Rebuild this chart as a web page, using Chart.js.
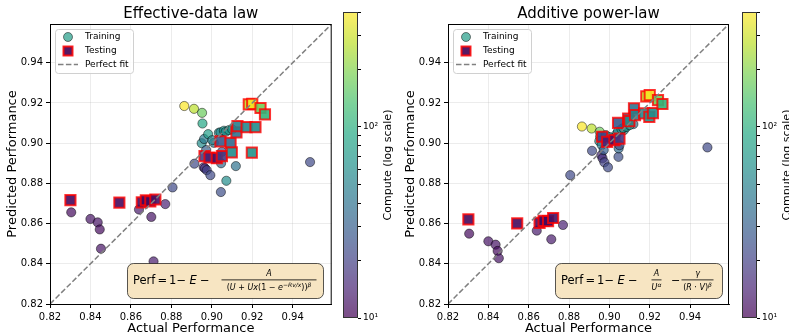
<!DOCTYPE html>
<html>
<head>
<meta charset="utf-8">
<script src="https://cdn.jsdelivr.net/npm/chart.js@4.4.1/dist/chart.umd.min.js"></script>
<style>
html, body { margin:0; padding:0; background:#fff; overflow:hidden; width:789px; height:336px; position:relative; }
canvas { position:absolute; top:0; }
</style>
</head>
<body>
<canvas id="plotA" width="400" height="336" style="left:0px"></canvas>
<canvas id="barA" width="60" height="336" style="left:343px"></canvas>
<canvas id="plotB" width="400" height="336" style="left:398px"></canvas>
<canvas id="barB" width="60" height="336" style="left:742px"></canvas>
<script>
// training runs
const trainActual  = [0.8305,0.8400,0.8436,0.8446,0.8452,0.8640,0.8701,0.8712,0.8770,0.8806,0.9486,
                      0.8864,0.8912,0.8952,0.8954,0.8914,0.8960,0.8966,0.8975,0.8993,0.9045,0.9046,0.9072,0.9119,
                      0.8950,0.8962,0.8982,0.8972,0.9010,0.9035,0.9043,0.9060,0.9069,0.9085,0.9101,0.9050,0.9002];
const trainPredEff = [0.8656,0.8623,0.8606,0.8571,0.8475,0.8670,0.8633,0.8412,0.8697,0.8780,0.8906,
                      0.9185,0.9171,0.9151,0.9098,0.8898,0.8880,0.8875,0.8866,0.8841,0.8757,0.8900,0.8813,0.8886,
                      0.9000,0.9021,0.9045,0.8966,0.9002,0.9052,0.9054,0.9062,0.9057,0.9065,0.9069,0.8957,0.9015];
const trainPredAdd = [0.8550,0.8512,0.8495,0.8464,0.8428,0.8565,0.8612,0.8522,0.8593,0.8841,0.8979,
                      0.9083,0.9073,0.9057,0.9032,0.8962,0.8940,0.8925,0.8905,0.8880,0.8932,0.8974,0.9065,0.9095,
                      0.9010,0.8991,0.9040,0.8966,0.9023,0.9045,0.9060,0.9070,0.9075,0.9081,0.9090,0.8990,0.9030];
const trainCompute = [11,12,12,11,12,13,12,13,14,22,22,
                      390,270,170,90,22,15,17,20,22,24,35,60,40,
                      60,45,75,30,45,60,55,65,60,70,65,25,50];

// held-out runs
const testActual  = [0.8301,0.8543,0.8654,0.8674,0.8696,0.8721,0.8964,0.8989,0.9025,0.9043,0.9050,
                     0.9093,0.9099,0.9122,0.9127,0.9172,0.9198,0.9216,0.9183,0.9200,0.9241,0.9263];
const testPredEff = [0.8717,0.8704,0.8706,0.8716,0.8711,0.8720,0.8936,0.8929,0.8926,0.9009,0.8936,
                     0.9002,0.8954,0.9054,0.9085,0.9080,0.8953,0.9080,0.9193,0.9196,0.9175,0.9143];
const testPredAdd = [0.8621,0.8601,0.8604,0.8614,0.8612,0.8628,0.9032,0.9007,0.9015,0.9101,0.9023,
                     0.9123,0.9110,0.9173,0.9140,0.9148,0.9131,0.9150,0.9233,0.9239,0.9214,0.9195];
const testCompute = [11,11,11,11,11,12,20,14,12,28,18,
                     35,60,40,50,55,65,60,280,380,180,110];

const axisTicks = [0.82,0.84,0.86,0.88,0.90,0.92,0.94];
const axisMin = 0.82, axisMax = 0.9593;
const cbarMin = 10, cbarMax = 400;
const cbarTicks = [10,20,30,40,50,60,70,80,90,100,200,300,400];

const viridisStops = ['#440154','#482475','#414487','#355f8d','#2a788e','#21918c','#22a884','#44bf70','#7ad151','#bddf26','#fde725'];

function hexRgb(h) { return [parseInt(h.substr(1,2),16), parseInt(h.substr(3,2),16), parseInt(h.substr(5,2),16)]; }

function viridis(t, a) {
  t = Math.max(0, Math.min(1, t));
  const f = t * (viridisStops.length - 1);
  const i = Math.min(Math.floor(f), viridisStops.length - 2);
  const c0 = hexRgb(viridisStops[i]), c1 = hexRgb(viridisStops[i+1]);
  const k = f - i;
  const c = c0.map((v, j) => Math.round(v + (c1[j] - v) * k));
  return 'rgba(' + c[0] + ',' + c[1] + ',' + c[2] + ',' + a + ')';
}

const norm = c => (Math.log10(c) - Math.log10(cbarMin)) / (Math.log10(cbarMax) - Math.log10(cbarMin));

const FONT = "'DejaVu Sans', sans-serif";

function fracBar(ctx, x0, x1, y) {
  ctx.fillRect(x0, y, x1 - x0, 0.8);
}

function pieces(ctx, list, cx, y) {
  // list of [text, font, dy]; centred at cx
  let w = 0;
  list.forEach(p => { ctx.font = p[1]; w += ctx.measureText(p[0]).width; });
  let x = cx - w / 2;
  ctx.textAlign = 'left';
  list.forEach(p => { ctx.font = p[1]; ctx.fillText(p[0], x, y + (p[2] || 0)); x += ctx.measureText(p[0]).width; });
}

const fracEff = (ctx, bx, by) => {
  const it = 'italic 8px ' + FONT, rm = '8px ' + FONT, sup = 'italic 6px ' + FONT;
  fracBar(ctx, bx + 94.5, bx + 189.5, by + 16.5);
  pieces(ctx, [['A', it]], bx + 142, by + 13);
  pieces(ctx, [['(', rm], ['U', it], [' + ', rm], ['Ux', it], ['(1 \u2212 ', rm], ['e', it],
               ['\u2212Rv/x', sup, -3.5], ['))', rm], ['\u03b2', sup, -3.5]], bx + 142, by + 27);
};

const fracAdd = (ctx, bx, by) => {
  const it = 'italic 8px ' + FONT, rm = '8px ' + FONT, sup = 'italic 6px ' + FONT;
  fracBar(ctx, bx + 96.5, bx + 106.5, by + 16.5);
  pieces(ctx, [['A', it]], bx + 101.5, by + 13);
  pieces(ctx, [['U', it], ['\u03b1', sup, -3.5]], bx + 101.5, by + 27);
  ctx.font = '11px ' + FONT;
  ctx.fillText('\u2212', bx + 116, by + 21);
  fracBar(ctx, bx + 126.5, bx + 158.5, by + 16.5);
  pieces(ctx, [['\u03b3', it]], bx + 142.5, by + 13);
  pieces(ctx, [['(', rm], ['R', it], [' \u00b7 ', rm], ['V', it], [')', rm], ['\u03b2', sup, -3.5]], bx + 142.5, by + 27);
};

// per-plot extras, keyed by canvas id
const decor = {
  plotA: {title: 'Effective-data law', boxLeft: 77, boxRight: 8.7, frac: fracEff},
  plotB: {title: 'Additive power-law', boxLeft: 107, boxRight: 7, frac: fracAdd}
};

// legend + frame + formula drawn on top of the plot
const decorPlugin = {
  id: 'decor',
  afterDraw(chart) {
    const ctx = chart.ctx, a = chart.chartArea;
    const o = decor[chart.canvas.id];
    ctx.save();
    // frame
    ctx.strokeStyle = '#000';
    ctx.lineWidth = 1;
    ctx.strokeRect(a.left + 0.5, a.top + 0.5, a.right - a.left - 1, a.bottom - a.top);

    // title
    ctx.fillStyle = '#000';
    ctx.font = '15px ' + FONT;
    ctx.textAlign = 'center';
    ctx.textBaseline = 'middle';
    ctx.fillText(o.title, (a.left + a.right) / 2, 14);

    // legend
    const lx = a.left + 5, ly = a.top + 5;
    ctx.beginPath();
    ctx.roundRect(lx + 0.5, ly + 0.5, 78, 44, 3);
    ctx.fillStyle = 'rgba(255,255,255,0.85)';
    ctx.fill();
    ctx.strokeStyle = '#d0d0d0';
    ctx.lineWidth = 1;
    ctx.stroke();
    ctx.textAlign = 'left';
    ctx.font = '9px ' + FONT;
    // training
    ctx.beginPath();
    ctx.arc(lx + 13, ly + 8, 4.5, 0, Math.PI * 2);
    ctx.fillStyle = viridis(0.55, 0.7);
    ctx.fill();
    ctx.strokeStyle = 'rgba(0,0,0,0.6)';
    ctx.lineWidth = 0.8;
    ctx.stroke();
    ctx.fillStyle = '#000';
    ctx.fillText('Training', lx + 30, ly + 8);
    // testing
    ctx.fillStyle = viridis(0, 0.9);
    ctx.fillRect(lx + 8.5, ly + 17.5, 9, 9);
    ctx.strokeStyle = 'rgba(255,0,0,0.85)';
    ctx.lineWidth = 2;
    ctx.strokeRect(lx + 8.5, ly + 17.5, 9, 9);
    ctx.fillStyle = '#000';
    ctx.fillText('Testing', lx + 30, ly + 22);
    // perfect fit
    ctx.beginPath();
    ctx.setLineDash([5.5, 2.4]);
    ctx.moveTo(lx + 3, ly + 35.5);
    ctx.lineTo(lx + 23, ly + 35.5);
    ctx.strokeStyle = 'rgba(128,128,128,1)';
    ctx.lineWidth = 1.5;
    ctx.stroke();
    ctx.setLineDash([]);
    ctx.fillText('Perfect fit', lx + 30, ly + 36);

    // formula box
    const bx = a.left + o.boxLeft, by = a.bottom - 41, bw = a.right - o.boxRight - bx, bh = 35;
    ctx.beginPath();
    ctx.roundRect(bx + 0.5, by + 0.5, bw, bh, 6);
    ctx.fillStyle = '#f7e5c2';
    ctx.fill();
    ctx.strokeStyle = 'rgba(0,0,0,0.65)';
    ctx.lineWidth = 1;
    ctx.stroke();
    ctx.fillStyle = '#000';
    ctx.textBaseline = 'alphabetic';
    const base = by + 21;
    ctx.font = '11.5px ' + FONT;
    ctx.fillText('Perf', bx + 6, base);
    ctx.fillText('=', bx + 30.5, base);
    ctx.fillText('1', bx + 42, base);
    ctx.fillText('\u2212', bx + 49.5, base);
    ctx.fillText('\u2212', bx + 73, base);
    ctx.font = 'italic 11.5px ' + FONT;
    ctx.fillText('E', bx + 62.5, base);
    o.frac(ctx, bx, by);
    ctx.restore();
  }
};

function makePlot(id, pred, testPred, padRight) {
  const train = trainActual.map((x, i) => ({x: x, y: pred[i]}));
  const test = testActual.map((x, i) => ({x: x, y: testPred[i]}));
  const tickFont = {family: FONT, size: 10};
  const axis = (label, isX) => ({
    type: 'linear',
    min: axisMin,
    max: axisMax,
    afterBuildTicks: s => { s.ticks = axisTicks.map(v => ({value: v})); },
    afterFit: s => { if (isX) s.height = 32; else s.width = 50; },
    ticks: {font: tickFont, color: '#000', padding: 3, maxRotation: 0, autoSkip: false,
            callback: v => v.toFixed(2)},
    grid: {color: 'rgba(176,176,176,0.3)', lineWidth: 0.8, tickLength: 4, tickColor: '#000', tickWidth: 1},
    border: {display: true, color: '#000', width: 1},
    title: {display: true, text: label, font: {family: FONT, size: 13}, color: '#000',
            padding: isX ? {top: 0, bottom: 0} : {top: 5, bottom: 0}}
  });
  return new Chart(id, {
    type: 'scatter',
    data: {
      datasets: [
        {
          type: 'line', label: 'Perfect fit', order: 0,
          data: [{x: axisMin, y: axisMin}, {x: axisMax, y: axisMax}],
          borderColor: 'rgba(128,128,128,1)', borderWidth: 1.5, borderDash: [5.5, 2.4],
          pointRadius: 0, fill: false
        },
        {
          label: 'Testing', order: 1, data: test, pointStyle: 'rect', pointRadius: 7.2,
          backgroundColor: testCompute.map(c => viridis(norm(c), 0.9)),
          borderColor: 'rgba(255,0,0,0.8)', borderWidth: 2
        },
        {
          label: 'Training', order: 2, data: train, pointStyle: 'circle', pointRadius: 4.6,
          backgroundColor: trainCompute.map(c => viridis(norm(c), 0.7)),
          borderColor: 'rgba(0,0,0,0.6)', borderWidth: 0.8
        }
      ]
    },
    options: {
      responsive: false, animation: false, devicePixelRatio: 1, events: [],
      layout: {padding: {top: 24, right: padRight, left: 0, bottom: 0}},
      plugins: {legend: {display: false}, tooltip: {enabled: false}},
      scales: {x: axis('Actual Performance', true), y: axis('Predicted Performance', false)}
    },
    plugins: [decorPlugin]
  });
}

const cbarPlugin = {
  id: 'cbar',
  beforeDatasetsDraw(chart) {
    const ctx = chart.ctx, a = chart.chartArea, y = chart.scales.y;
    for (let py = a.top; py < a.bottom; py++) {
      const v = y.getValueForPixel(py + 0.5);
      ctx.fillStyle = viridis(norm(v), 0.7);
      ctx.fillRect(a.left, py, a.right - a.left, 1);
    }
  },
  afterDraw(chart) {
    const ctx = chart.ctx, a = chart.chartArea;
    ctx.save();
    ctx.strokeStyle = '#333';
    ctx.lineWidth = 1;
    ctx.strokeRect(a.left + 0.5, a.top + 0.5, a.right - a.left - 1, a.bottom - a.top - 1);
    ctx.translate(a.left + 45, (a.top + a.bottom) / 2);
    ctx.rotate(-Math.PI / 2);
    ctx.fillStyle = '#000';
    ctx.font = '11px ' + FONT;
    ctx.textAlign = 'center';
    ctx.textBaseline = 'middle';
    ctx.fillText('Compute (log scale)', 0, 0);
    ctx.restore();
  }
};

function makeBar(id) {
  return new Chart(id, {
    type: 'scatter',
    data: {datasets: []},
    options: {
      responsive: false, animation: false, devicePixelRatio: 1, events: [],
      layout: {padding: {top: 12, bottom: 18, left: 0, right: 0}},
      plugins: {legend: {display: false}, tooltip: {enabled: false}},
      scales: {
        x: {display: false},
        y: {
          type: 'logarithmic', position: 'right', min: cbarMin, max: cbarMax,
          afterFit: s => { s.width = 45; },
          afterBuildTicks: s => { s.ticks = cbarTicks.map(v => ({value: v})); },
          ticks: {autoSkip: false, color: '#000', padding: 2, font: {family: FONT, size: 9},
                  callback: v => v === 10 ? '10\u00b9' : (v === 100 ? '10\u00b2' : '')},
          grid: {drawOnChartArea: false, tickLength: 3, tickColor: '#000'},
          border: {display: false}
        }
      }
    },
    plugins: [cbarPlugin]
  });
}

makePlot('plotA', trainPredEff, testPredEff, 68.3);
makeBar('barA');
makePlot('plotB', trainPredAdd, testPredAdd, 69);
makeBar('barB');
</script>
</body>
</html>
